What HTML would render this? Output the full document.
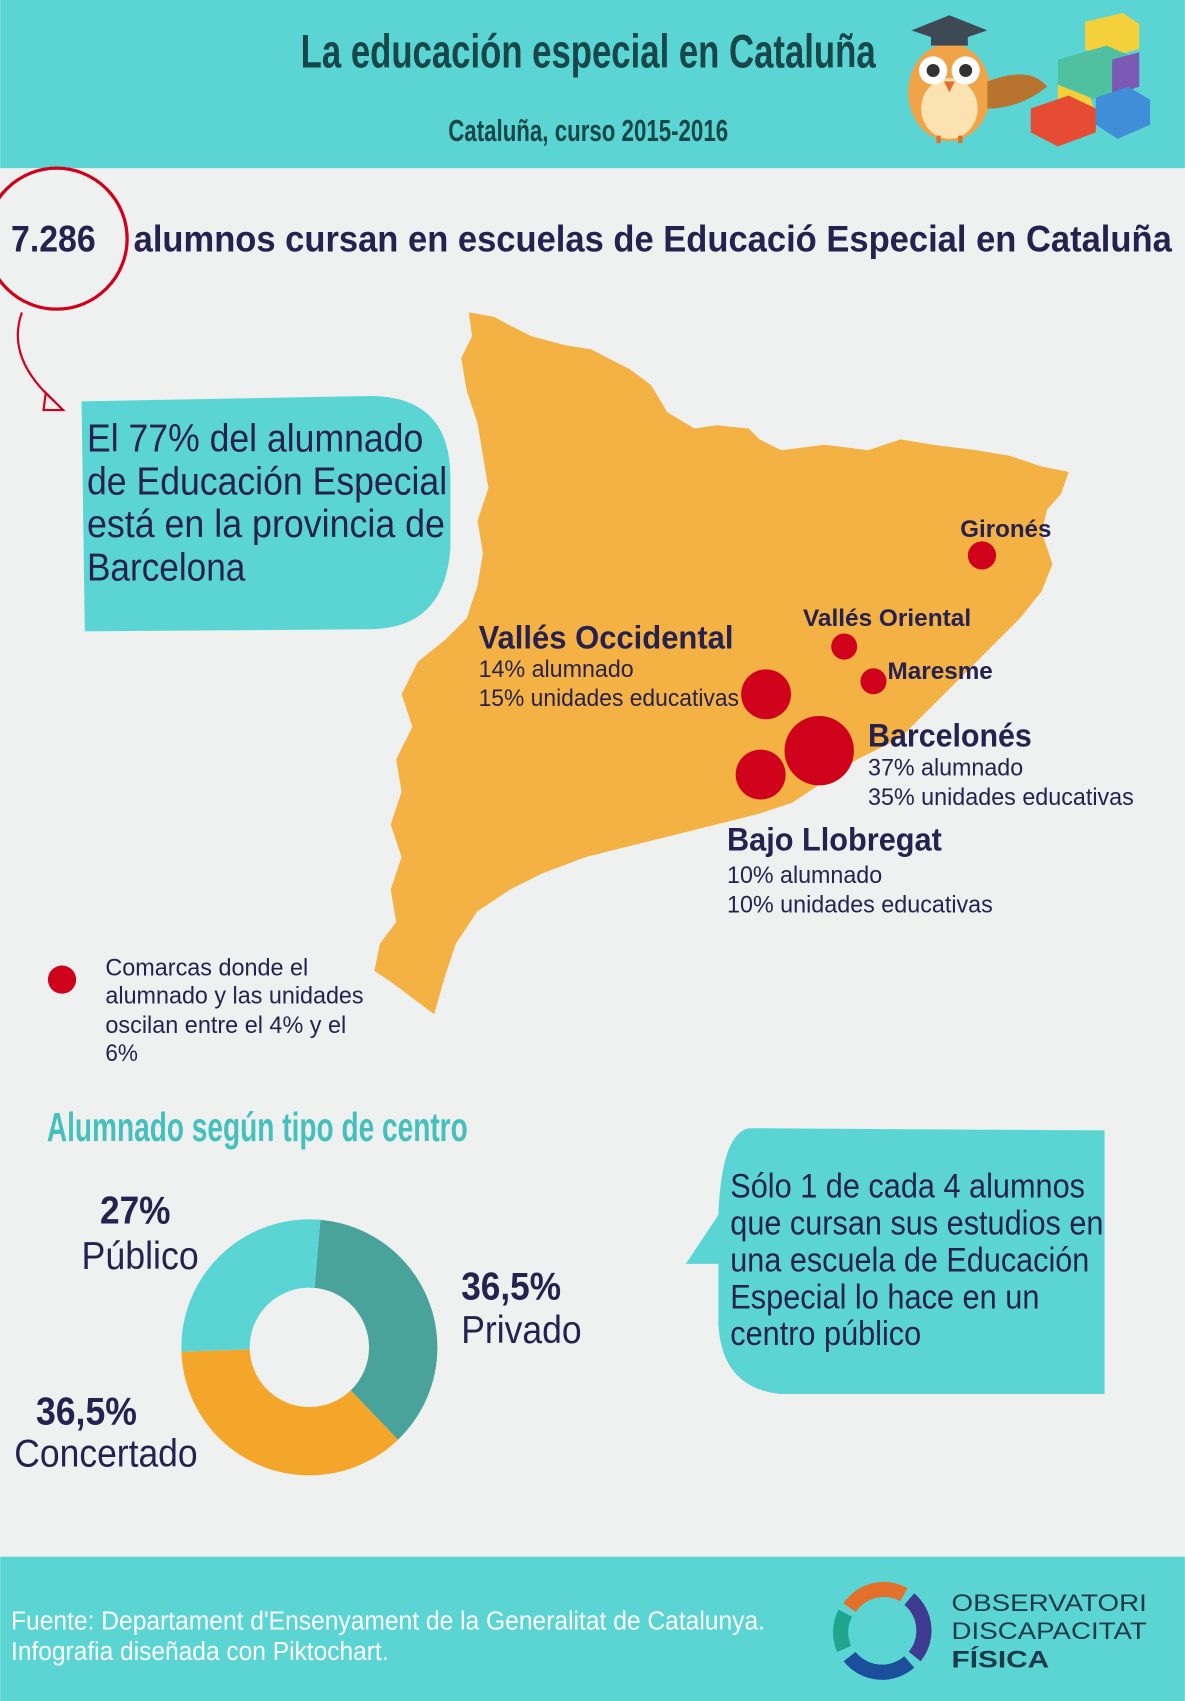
<!DOCTYPE html>
<html><head><meta charset="utf-8"><style>
html,body{margin:0;padding:0;background:#eff1f1;}
svg{display:block}
text{font-family:"Liberation Sans Narrow","Liberation Sans",sans-serif;}
</style></head><body>
<svg width="1185" height="1701" viewBox="0 0 1092 1568" xmlns="http://www.w3.org/2000/svg">
<rect x="0" y="0" width="1092" height="1568" fill="#eff1f1"/>
<rect x="0" y="0" width="1092" height="155" fill="#5bd5d3"/>
<text x="542" y="62" text-anchor="middle" font-size="44" font-weight="bold" fill="#18474a" textLength="530" lengthAdjust="spacingAndGlyphs">La educación especial en Cataluña</text>
<text x="542" y="130" text-anchor="middle" font-size="28" font-weight="bold" fill="#18474a" textLength="258" lengthAdjust="spacingAndGlyphs">Cataluña, curso 2015-2016</text>
<g>
<ellipse cx="875" cy="85" rx="38" ry="45" fill="#f0a347"/>
<ellipse cx="875" cy="100" rx="26" ry="28" fill="#fbe2b0"/>
<path d="M910,75 Q950,60 965,80 Q940,100 910,100 Z" fill="#b8742f"/>
<circle cx="860" cy="65" r="13" fill="#fff"/><circle cx="890" cy="65" r="13" fill="#fff"/>
<circle cx="860" cy="65" r="6" fill="#333"/><circle cx="890" cy="65" r="6" fill="#333"/>
<path d="M870,75 L880,75 L875,85 Z" fill="#e2702a"/>
<path d="M840,28 L875,14 L910,28 L875,40 Z" fill="#3d4a55"/>
<rect x="858" y="30" width="34" height="12" fill="#3d4a55"/>
<line x1="865" y1="125" x2="865" y2="132" stroke="#e2702a" stroke-width="4"/><line x1="885" y1="125" x2="885" y2="132" stroke="#e2702a" stroke-width="4"/>
</g>
<g>
<path d="M1000,20 L1035,12 L1050,22 L1050,45 L1015,55 L1000,45 Z" fill="#f4d13b"/>
<path d="M975,55 L1020,42 L1050,55 L1050,78 L1005,92 L975,80 Z" fill="#4fc0a0"/>
<path d="M1025,55 L1050,48 L1050,80 L1025,88 Z" fill="#7b59b5"/>
<path d="M975,78 L1005,90 L1010,105 L985,112 L975,100 Z" fill="#f4d13b"/>
<path d="M950,100 L985,88 L1010,100 L1010,122 L975,135 L950,122 Z" fill="#e64b33"/>
<path d="M1010,90 L1040,80 L1060,92 L1060,115 L1030,128 L1010,115 Z" fill="#3f8fd8"/>
</g>
<circle cx="52" cy="220" r="65" fill="none" stroke="#d0021b" stroke-width="3"/>
<text x="10" y="232" font-size="34" font-weight="bold" fill="#27214f" font-family="Liberation Sans" textLength="78" lengthAdjust="spacingAndGlyphs">7.286</text>
<text x="123" y="232" font-size="34" font-weight="bold" fill="#27214f" font-family="Liberation Sans" textLength="957" lengthAdjust="spacingAndGlyphs">alumnos cursan en escuelas de Educació Especial en Cataluña</text>
<path d="M20,288 Q5,330 50,370" fill="none" stroke="#d0021b" stroke-width="2"/>
<path d="M42,362 L58,378 L40,378 Z" fill="none" stroke="#d0021b" stroke-width="2"/>
<polygon fill="#f4b244" points="432,288 455,292 470,300 490,310 520,318 545,322 560,330 580,340 600,355 615,380 640,395 660,392 690,395 700,405 720,415 760,410 800,415 830,405 860,410 900,415 930,420 960,430 985,435 978,455 965,470 960,490 970,520 960,545 940,570 920,590 890,620 860,650 830,680 790,700 760,720 730,740 700,750 660,760 620,770 580,780 540,790 500,805 470,820 440,840 420,870 410,900 400,935 380,920 360,905 345,895 350,870 365,850 360,820 370,790 360,760 370,730 365,700 380,670 370,640 385,610 410,590 430,570 440,540 445,510 440,480 450,450 445,420 440,390 430,360 425,330 435,310"/>
<path d="M75,370 L340,365 Q415,365 415,440 L415,505 Q410,580 340,580 L78,582 Z" fill="#5bd5d3"/>
<g font-size="36" fill="#27214f" lengthAdjust="spacingAndGlyphs">
<text x="80" y="416" textLength="310" lengthAdjust="spacingAndGlyphs">El 77% del alumnado</text>
<text x="80" y="456" textLength="332" lengthAdjust="spacingAndGlyphs">de Educación Especial</text>
<text x="80" y="495" textLength="330" lengthAdjust="spacingAndGlyphs">está en la provincia de</text>
<text x="80" y="535" textLength="146" lengthAdjust="spacingAndGlyphs">Barcelona</text>
</g>
<g fill="#d0021b">
<circle cx="905" cy="512" r="13"/><circle cx="778" cy="596" r="12"/><circle cx="805" cy="628" r="12"/>
<circle cx="706" cy="640" r="23"/><circle cx="755" cy="692" r="32"/><circle cx="701" cy="714" r="23"/>
<circle cx="57" cy="903" r="13"/>
</g>
<g fill="#27214f">
<text x="885" y="495" font-size="22" font-weight="bold" textLength="84" lengthAdjust="spacingAndGlyphs">Gironés</text>
<text x="740" y="577" font-size="22" font-weight="bold" textLength="155" lengthAdjust="spacingAndGlyphs">Vallés Oriental</text>
<text x="818" y="626" font-size="22" font-weight="bold" textLength="97" lengthAdjust="spacingAndGlyphs">Maresme</text>
<text x="441" y="598" font-size="30" font-weight="bold" textLength="235" lengthAdjust="spacingAndGlyphs">Vallés Occidental</text>
<text x="441" y="624" font-size="22" textLength="143" lengthAdjust="spacingAndGlyphs">14% alumnado</text>
<text x="441" y="651" font-size="22" textLength="240" lengthAdjust="spacingAndGlyphs">15% unidades educativas</text>
<text x="800" y="688" font-size="30" font-weight="bold" textLength="151" lengthAdjust="spacingAndGlyphs">Barcelonés</text>
<text x="800" y="715" font-size="22" textLength="143" lengthAdjust="spacingAndGlyphs">37% alumnado</text>
<text x="800" y="742" font-size="22" textLength="245" lengthAdjust="spacingAndGlyphs">35% unidades educativas</text>
<text x="670" y="784" font-size="30" font-weight="bold" textLength="198" lengthAdjust="spacingAndGlyphs">Bajo Llobregat</text>
<text x="670" y="814" font-size="22" textLength="143" lengthAdjust="spacingAndGlyphs">10% alumnado</text>
<text x="670" y="841" font-size="22" textLength="245" lengthAdjust="spacingAndGlyphs">10% unidades educativas</text>
<text x="97" y="899" font-size="22" textLength="187" lengthAdjust="spacingAndGlyphs">Comarcas donde el</text>
<text x="97" y="925" font-size="22" textLength="238" lengthAdjust="spacingAndGlyphs">alumnado y las unidades</text>
<text x="97" y="952" font-size="22" textLength="222" lengthAdjust="spacingAndGlyphs">oscilan entre el 4% y el</text>
<text x="97" y="978" font-size="22" textLength="30" lengthAdjust="spacingAndGlyphs">6%</text>
</g>
<text x="43" y="1052" font-size="38" font-weight="bold" fill="#45c0bd" textLength="388" lengthAdjust="spacingAndGlyphs">Alumnado según tipo de centro</text>
<g transform="translate(285,1242) rotate(-90)" fill="none" stroke-width="63">
<circle r="86.5" stroke="#4aa39b" stroke-dasharray="198 345.5" stroke-dashoffset="-7.5"/>
<circle r="86.5" stroke="#f4a62a" stroke-dasharray="199 344.5" stroke-dashoffset="-205.5"/>
<circle r="86.5" stroke="#5bd5d3" stroke-dasharray="146.5 397" stroke-dashoffset="-404.5"/>
<circle r="86.5" stroke="#5bd5d3" stroke-dasharray="7.5 536" stroke-dashoffset="0"/>
</g>
<g fill="#27214f">
<text x="92" y="1128" font-size="36" font-weight="bold" textLength="65" lengthAdjust="spacingAndGlyphs">27%</text>
<text x="75" y="1170" font-size="36" textLength="108" lengthAdjust="spacingAndGlyphs">Público</text>
<text x="425" y="1198" font-size="36" font-weight="bold" textLength="92" lengthAdjust="spacingAndGlyphs">36,5%</text>
<text x="425" y="1238" font-size="36" textLength="111" lengthAdjust="spacingAndGlyphs">Privado</text>
<text x="33" y="1313" font-size="36" font-weight="bold" textLength="93" lengthAdjust="spacingAndGlyphs">36,5%</text>
<text x="13" y="1352" font-size="36" textLength="169" lengthAdjust="spacingAndGlyphs">Concertado</text>
</g>
<path d="M690,1040 L1018,1042 L1018,1285 L720,1285 Q665,1280 662,1220 L662,1165 L632,1165 L662,1120 Q665,1045 690,1040 Z" fill="#5bd5d3"/>
<g font-size="32" fill="#27214f">
<text x="673" y="1104" textLength="327" lengthAdjust="spacingAndGlyphs">Sólo 1 de cada 4 alumnos</text>
<text x="673" y="1138" textLength="344" lengthAdjust="spacingAndGlyphs">que cursan sus estudios en</text>
<text x="673" y="1172" textLength="331" lengthAdjust="spacingAndGlyphs">una escuela de Educación</text>
<text x="673" y="1206" textLength="285" lengthAdjust="spacingAndGlyphs">Especial lo hace en un</text>
<text x="673" y="1240" textLength="176" lengthAdjust="spacingAndGlyphs">centro público</text>
</g>
<rect x="0" y="1435" width="1092" height="133" fill="#5bd5d3"/>
<text x="10" y="1502" font-size="24" fill="#fff" textLength="695" lengthAdjust="spacingAndGlyphs">Fuente: Departament d'Ensenyament de la Generalitat de Catalunya.</text>
<text x="10" y="1530" font-size="24" fill="#fff" textLength="348" lengthAdjust="spacingAndGlyphs">Infografia diseñada con Piktochart.</text>
<g transform="translate(813,1502)" fill="none" stroke-width="14">
<path d="M-30,-20 A38,38 0 0 1 20,-32" stroke="#e2702a"/>
<path d="M25,-28 A38,38 0 0 1 30,25" stroke="#3e3a8f"/>
<path d="M25,30 A38,38 0 0 1 -30,25" stroke="#1b4f9c"/>
<path d="M-35,18 A38,38 0 0 1 -34,-15" stroke="#1fa58e"/>
</g>
<g fill="#1d3a4a" font-family="Liberation Sans" font-size="22">
<text x="877" y="1485" textLength="180" lengthAdjust="spacingAndGlyphs">OBSERVATORI</text>
<text x="877" y="1511" textLength="180" lengthAdjust="spacingAndGlyphs">DISCAPACITAT</text>
<text x="877" y="1537" font-weight="bold" textLength="90" lengthAdjust="spacingAndGlyphs">FÍSICA</text>
</g>
</svg>
</body></html>
